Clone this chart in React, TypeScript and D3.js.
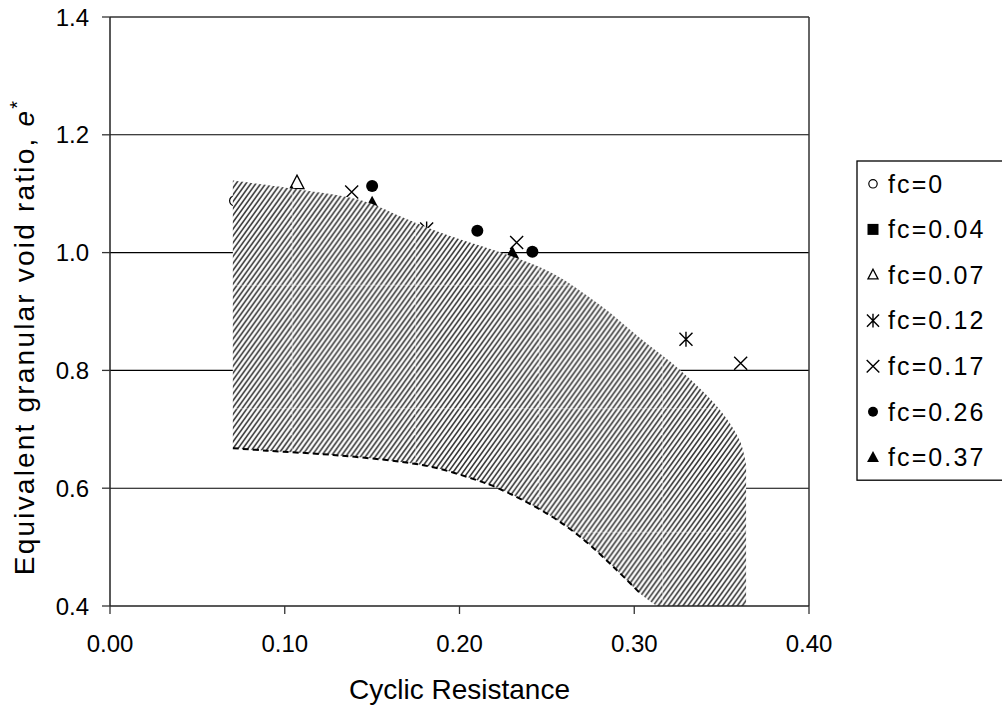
import React from "react";
import * as d3 from "d3";

// ---------- data ----------
const xTickValues = [0, 0.1, 0.2, 0.3, 0.4];
const yTickValues = [0.4, 0.6, 0.8, 1.0, 1.2, 1.4];
const gridValues = [0.6, 0.8, 1.0, 1.2];
const xTitle = "Cyclic Resistance";
const yTitle = "Equivalent granular void ratio, ";

const seriesLabels = ["fc=0", "fc=0.04", "fc=0.07", "fc=0.12", "fc=0.17", "fc=0.26", "fc=0.37"];

const fc000X = [0.0713];
const fc000Y = [1.088];
const fc004X: number[] = [];
const fc004Y: number[] = [];
const fc007X = [0.107];
const fc007Y = [1.118];
const fc012X = [0.1812, 0.3296];
const fc012Y = [1.04, 0.853];
const fc017X = [0.1383, 0.2327, 0.3609];
const fc017Y = [1.103, 1.017, 0.812];
const fc026X = [0.15, 0.2102, 0.2417];
const fc026Y = [1.113, 1.037, 1.0015];
const fc037X = [0.104, 0.15, 0.2302];
const fc037Y = [1.102, 1.0837, 0.9988];

// hatched band: upper boundary and lower (dashed) boundary
const upperX = [0.0703, 0.104, 0.1385, 0.15, 0.166, 0.1803, 0.1946, 0.2232, 0.2518, 0.2804, 0.3033, 0.3262, 0.3491, 0.3605, 0.364];
const upperY = [1.1224, 1.1088, 1.0927, 1.0825, 1.0617, 1.0443, 1.0282, 1.0006, 0.967, 0.911, 0.855, 0.8007, 0.7328, 0.68, 0.64];
const lowerX = [0.0703, 0.0897, 0.1278, 0.166, 0.185, 0.204, 0.2222, 0.25, 0.269, 0.288, 0.3043, 0.313];
const lowerY = [0.668, 0.6637, 0.6564, 0.645, 0.6355, 0.6195, 0.5998, 0.557, 0.5177, 0.4667, 0.4187, 0.4];

type Shape = "openCircle" | "square" | "openTriangle" | "asterisk" | "cross" | "dot" | "triangle";
const seriesShapes: Shape[] = ["openCircle", "square", "openTriangle", "asterisk", "cross", "dot", "triangle"];
const seriesX = [fc000X, fc004X, fc007X, fc012X, fc017X, fc026X, fc037X];
const seriesY = [fc000Y, fc004Y, fc007Y, fc012Y, fc017Y, fc026Y, fc037Y];

// ---------- layout ----------
const W = 1002;
const H = 709;
const plot = { left: 110, right: 809, top: 17, bottom: 606 };
const FONT = "'Liberation Sans', Arial, Helvetica, sans-serif";

const x = d3.scaleLinear().domain([0, 0.4]).range([plot.left, plot.right]);
const y = d3.scaleLinear().domain([0.4, 1.4]).range([plot.bottom, plot.top]);

function Marker({ shape, cx, cy, legend }: { shape: Shape; cx: number; cy: number; legend?: boolean }) {
  switch (shape) {
    case "openCircle": {
      const r = legend ? 4.2 : 5;
      return <circle cx={cx} cy={cy} r={r} fill="white" stroke="black" strokeWidth={1.2} />;
    }
    case "dot": {
      const r = legend ? 5 : 6;
      return <circle cx={cx} cy={cy} r={r} fill="black" />;
    }
    case "square": {
      const s = 11;
      return <rect x={cx - s / 2} y={cy - s / 2} width={s} height={s} fill="black" />;
    }
    case "openTriangle": {
      const f = legend ? 0.72 : 1;
      const d = `M${cx},${cy - 8 * f}L${cx + 7 * f},${cy + 5.5 * f}L${cx - 7 * f},${cy + 5.5 * f}Z`;
      return <path d={d} fill="white" stroke="black" strokeWidth={1.3} />;
    }
    case "triangle": {
      const f = legend ? 0.85 : 1;
      const d = `M${cx},${cy - 7.5 * f}L${cx + 7 * f},${cy + 5.5 * f}L${cx - 7 * f},${cy + 5.5 * f}Z`;
      return <path d={d} fill="black" />;
    }
    case "cross": {
      const a = 6.5 * (legend ? 0.97 : 1);
      return (
        <path
          d={`M${cx - a},${cy - a}L${cx + a},${cy + a}M${cx - a},${cy + a}L${cx + a},${cy - a}`}
          stroke="black"
          strokeWidth={1.4}
          fill="none"
        />
      );
    }
    case "asterisk": {
      const a = 6.5 * (legend ? 0.93 : 1);
      const v = 7.5 * (legend ? 0.93 : 1);
      return (
        <path
          d={`M${cx - a},${cy - a}L${cx + a},${cy + a}M${cx - a},${cy + a}L${cx + a},${cy - a}M${cx},${cy - v}L${cx},${cy + v}`}
          stroke="black"
          strokeWidth={1.4}
          fill="none"
        />
      );
    }
  }
  return null;
}

// hatch pattern tile (seamless diagonal stripes with faint tile seams)
const TILE = 123.5;
const NX = 25;
const NY = 18;
function HatchPattern() {
  const h = TILE / NX;
  const v = TILE / NY;
  const lines = [];
  for (let n = -2; n <= NX + NY + 2; n++) {
    lines.push(
      <line
        key={n}
        x1={(n + 1) * h}
        y1={-v}
        x2={(n - NY - 1) * h}
        y2={TILE + v}
        stroke="#303030"
        strokeWidth={1.55}
      />
    );
  }
  return (
    <pattern id="hatch" patternUnits="userSpaceOnUse" x={44.7} y={37.7} width={TILE} height={TILE}>
      <rect x={0} y={0} width={TILE} height={TILE} fill="white" />
      {lines}
      <line x1={0.5} y1={0} x2={0.5} y2={TILE} stroke="white" strokeOpacity={0.4} strokeWidth={1} />
      <line x1={0} y1={0.5} x2={TILE} y2={0.5} stroke="white" strokeOpacity={0.4} strokeWidth={1} />
    </pattern>
  );
}

export default function App() {
  const curve = d3.curveCatmullRom.alpha(0.5);
  const line = d3
    .line<[number, number]>()
    .x((d) => x(d[0]))
    .y((d) => y(d[1]))
    .curve(curve);

  const upperPts: [number, number][] = upperX.map((v, i) => [v, upperY[i]]);
  const lowerPts: [number, number][] = lowerX.map((v, i) => [v, lowerY[i]]);
  const upperPath = line(upperPts) || "";
  const lowerRev = (line([...lowerPts].reverse()) || "").replace(/^M/, "L");
  const lastU = upperPts[upperPts.length - 1];
  const lastL = lowerPts[lowerPts.length - 1];
  const bandPath =
    upperPath + `L${x(lastU[0])},${y(0.4)}` + `L${x(lastL[0])},${y(0.4)}` + lowerRev + "Z";
  const dashedPath = line(lowerPts.slice(0, lowerPts.length - 1)) || "";

  const legendX = 857;
  const legendTop = 161;
  const rowH = 45.6;
  const legendFs = 25;

  return (
    <svg
      width={W}
      height={H}
      viewBox={`0 0 ${W} ${H}`}
      style={{ position: "absolute", left: 0, top: 0, background: "white" }}
      fontFamily={FONT}
    >
      <defs>
        <HatchPattern />
        <clipPath id="plotClip">
          <rect x={plot.left} y={plot.top} width={plot.right - plot.left} height={plot.bottom - plot.top} />
        </clipPath>
      </defs>
      <rect x={0} y={0} width={W} height={H} fill="white" />

      {/* gridlines */}
      {gridValues.map((g) => (
        <line key={g} x1={plot.left} x2={plot.right} y1={y(g)} y2={y(g)} stroke="black" strokeWidth={1.1} />
      ))}

      <g clipPath="url(#plotClip)">
        {/* data markers (beneath the hatched band) */}
        {seriesX.map((xs, si) =>
          xs.map((xv, i) => (
            <Marker key={`${si}-${i}`} shape={seriesShapes[si]} cx={x(xv)} cy={y(seriesY[si][i])} />
          ))
        )}
        {/* hatched band */}
        <path d={bandPath} fill="url(#hatch)" stroke="none" />
        <path d={dashedPath} fill="none" stroke="black" strokeWidth={2} strokeDasharray="6,4" />
      </g>

      {/* frame */}
      <line x1={plot.left} x2={plot.right} y1={plot.top} y2={plot.top} stroke="#333" strokeWidth={1.5} />
      <line x1={plot.right} x2={plot.right} y1={plot.top} y2={plot.bottom} stroke="#333" strokeWidth={1.5} />
      <line x1={plot.left} x2={plot.left} y1={plot.top} y2={plot.bottom} stroke="#222" strokeWidth={1.5} />
      <line x1={plot.left} x2={plot.right} y1={plot.bottom} y2={plot.bottom} stroke="#222" strokeWidth={1.5} />

      {/* x ticks */}
      {xTickValues.map((t) => (
        <g key={t}>
          <line x1={x(t)} x2={x(t)} y1={plot.bottom} y2={plot.bottom + 8} stroke="#333" strokeWidth={1.3} />
          <text x={x(t)} y={652} textAnchor="middle" fontSize={24} fill="black">
            {t.toFixed(2)}
          </text>
        </g>
      ))}
      {/* y ticks */}
      {yTickValues.map((t) => (
        <g key={t}>
          <line x1={plot.left - 8} x2={plot.left} y1={y(t)} y2={y(t)} stroke="#333" strokeWidth={1.3} />
          <text x={89} y={y(t) + 8.5} textAnchor="end" fontSize={24} fill="black">
            {t.toFixed(1)}
          </text>
        </g>
      ))}

      {/* axis titles */}
      <text x={(plot.left + plot.right) / 2} y={699} textAnchor="middle" fontSize={28} fill="black">
        {xTitle}
      </text>
      <text
        transform={`translate(34, 337) rotate(-90)`}
        textAnchor="middle"
        fontSize={28}
        letterSpacing={2.2}
        fill="black"
      >
        {yTitle}
        <tspan fontStyle="italic">e</tspan>
        <tspan dy={-10} fontSize={20}>*</tspan>
      </text>

      {/* legend */}
      <rect
        x={legendX}
        y={legendTop}
        width={W - legendX + 20}
        height={rowH * seriesLabels.length}
        fill="white"
        stroke="black"
        strokeWidth={1.3}
      />
      {seriesLabels.map((lab, i) => {
        const cy = legendTop + rowH / 2 + i * rowH;
        return (
          <g key={lab}>
            <Marker shape={seriesShapes[i]} cx={873} cy={cy} legend />
            <text x={888} y={cy + legendFs * 0.35} fontSize={legendFs} letterSpacing={2.1} fill="black">
              {lab}
            </text>
          </g>
        );
      })}
    </svg>
  );
}
